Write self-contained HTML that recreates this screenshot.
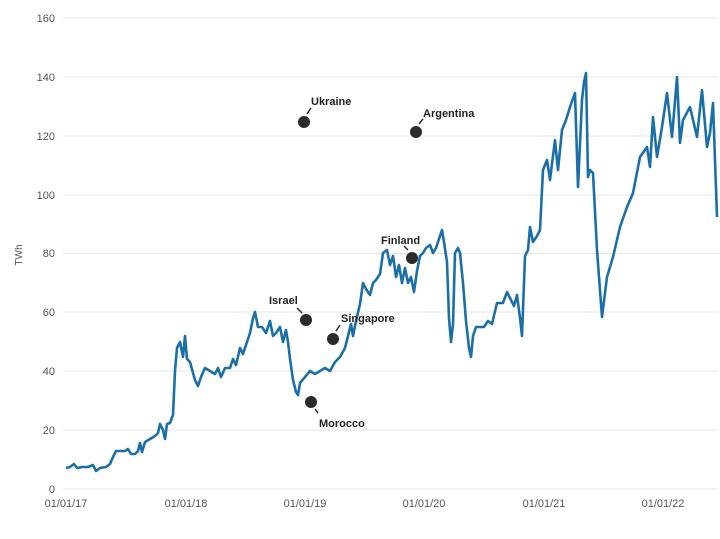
<!DOCTYPE html><html><head><style>body{margin:0;background:#fff}svg{font-family:"Liberation Sans",sans-serif}</style></head><body>
<svg width="720" height="534" viewBox="0 0 720 534">
<g stroke="#e6e6e6" stroke-width="1">
<line x1="63" x2="718" y1="489" y2="489"/><line x1="63" x2="718" y1="430" y2="430"/><line x1="63" x2="718" y1="371" y2="371"/><line x1="63" x2="718" y1="312" y2="312"/><line x1="63" x2="718" y1="253.5" y2="253.5"/><line x1="63" x2="718" y1="195" y2="195"/><line x1="63" x2="718" y1="136" y2="136"/><line x1="63" x2="718" y1="77" y2="77"/><line x1="63" x2="718" y1="18" y2="18"/>
</g>
<g fill="#555" font-size="11" text-anchor="end">
<text x="55" y="493">0</text><text x="55" y="434">20</text><text x="55" y="375">40</text><text x="55" y="316">60</text><text x="55" y="257">80</text><text x="55" y="199">100</text><text x="55" y="140">120</text><text x="55" y="81">140</text><text x="55" y="22">160</text>
</g>
<g fill="#555" font-size="11" text-anchor="middle">
<text x="66" y="507">01/01/17</text><text x="186" y="507">01/01/18</text><text x="305" y="507">01/01/19</text><text x="424" y="507">01/01/20</text><text x="544" y="507">01/01/21</text><text x="663" y="507">01/01/22</text>
</g>
<text x="22" y="255" fill="#555" font-size="10" text-anchor="middle" transform="rotate(-90 22 255)">TWh</text>
<polyline fill="none" stroke="#1b6fa8" stroke-width="2.6" stroke-linejoin="round" points="
66,468 70,467 74,464 77,468 82,467 88,467 93,465 96,471 100,468 106,467 110,464 113,457 116,451 120,451 125,451 128,449 131,454 135,454 138,451 140,443 142,452 145,442 150,439 155,436 158,433 160,424 163,430 165,439 167,424 170,423 173,415 175,371 177,348 180,342 183,357 185,336 187,359 190,362 195,380 198,386 201,377 205,368 210,371 215,374 218,368 221,377 225,368 230,368 233,359 236,365 240,348 243,354 247,342 250,333 253,318 255,312 258,327 262,327 266,333 270,321 273,336 276,333 280,327 283,342 286,330 288,342 290,359 293,380 296,392 298,395 300,383 305,377 310,371 315,374 320,371 325,368 330,371 335,362 340,357 345,348 348,336 351,324 353,336 356,321 360,304 363,283 366,289 370,295 373,283 376,280 380,274 383,253 387,250 390,265 393,256 396,277 399,265 402,283 405,268 408,283 411,277 414,292 417,271 420,256 423,253 426,248 430,245 433,253 436,248 439,239 442,230 444,242 447,262 449,318 451,342 453,324 455,253 458,248 460,253 463,283 466,321 469,348 471,357 473,336 476,327 480,327 484,327 488,321 492,324 497,303 503,303 507,292 511,300 514,306 517,295 520,318 522,336 525,256 528,250 530,227 533,242 537,236 540,230 543,170 547,160 550,180 555,140 558,170 562,130 566,120 570,107 575,93 578,187 582,100 584,82 586,73 588,177 590,170 593,173 597,250 602,317 607,277 613,257 620,227 627,207 633,193 640,157 647,147 650,167 653,117 657,157 662,127 667,93 672,137 677,77 680,143 683,120 690,107 697,137 702,90 707,147 710,133 713,103 717,217"/>
<g fill="#2b2b2b"><circle cx="304" cy="122" r="6"/><circle cx="416" cy="132" r="6"/><circle cx="412" cy="258" r="6"/><circle cx="306" cy="320" r="6"/><circle cx="333" cy="339" r="6"/><circle cx="311" cy="402" r="6"/></g>
<g stroke="#2b2b2b" stroke-width="1.5"><line x1="307" y1="114" x2="311" y2="108"/><line x1="419" y1="124" x2="423" y2="119"/><line x1="408" y1="250" x2="404" y2="246"/><line x1="302" y1="313" x2="297" y2="308"/><line x1="336" y1="331" x2="340" y2="325"/><line x1="315" y1="409" x2="318" y2="413"/></g>
<g fill="#222" font-size="11" font-weight="bold">
<text x="311" y="105">Ukraine</text><text x="423" y="117">Argentina</text><text x="381" y="244">Finland</text><text x="269" y="304">Israel</text><text x="341" y="322">Singapore</text><text x="319" y="427">Morocco</text>
</g>
</svg></body></html>
